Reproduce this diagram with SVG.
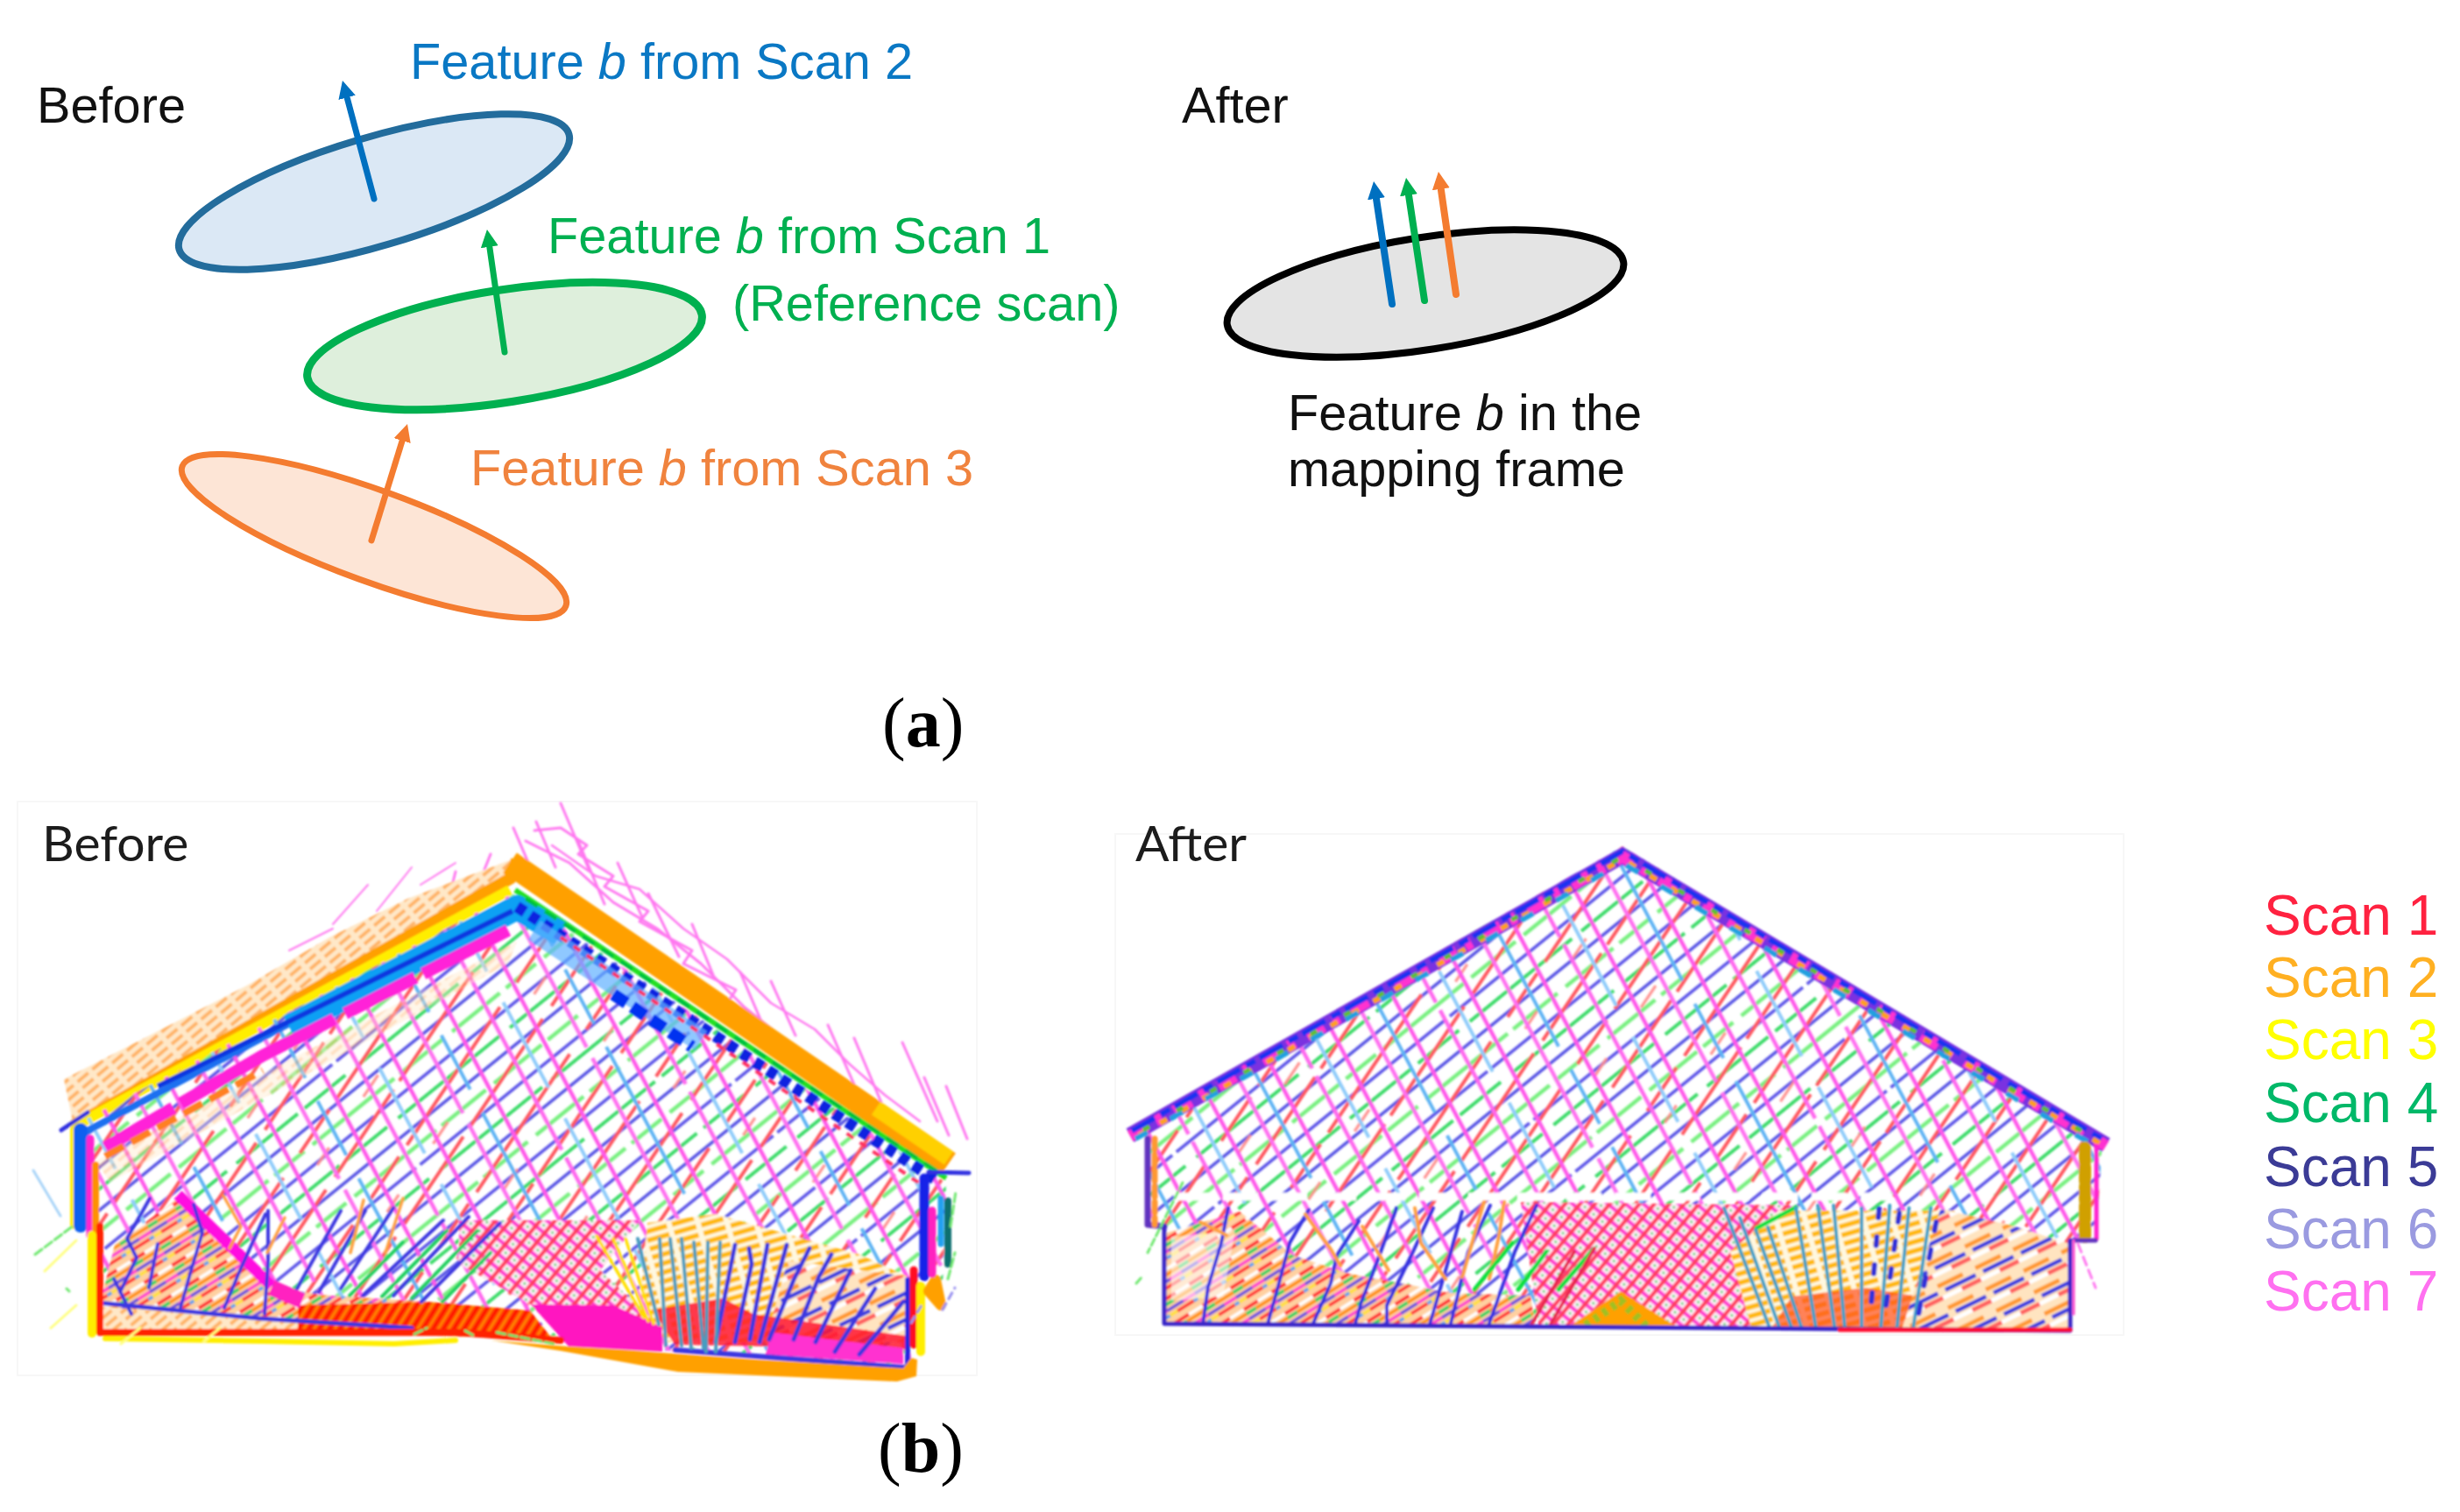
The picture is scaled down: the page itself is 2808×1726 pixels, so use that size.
<svg xmlns="http://www.w3.org/2000/svg" width="2808" height="1726" viewBox="0 0 2808 1726">
<style>
.s{font-family:"Liberation Sans",Arial,sans-serif;font-size:57.700px}
.c{font-family:Lato,"Open Sans",sans-serif;font-size:57px;fill:#1a1a1a}
.l{font-family:"Liberation Serif","Times New Roman",serif;font-size:80px;fill:#000}
.k{font-family:"Liberation Sans",Arial,sans-serif;font-size:64px}
.n{fill:none;stroke-linecap:round;stroke-linejoin:round}
.bl{stroke:#0070c0}.gr{stroke:#00b050}.or{stroke:#f47c30}
</style>
<defs>
<filter id="soft" x="-5%" y="-5%" width="110%" height="110%"><feGaussianBlur stdDeviation="1.2"/></filter>
<filter id="tb" x="-5%" y="-20%" width="110%" height="140%"><feGaussianBlur stdDeviation="0.6"/></filter>
<marker id="mb" markerUnits="userSpaceOnUse" markerWidth="24" markerHeight="24" refX="2" refY="12" orient="auto"><path d="M0 2L20 12L0 22z" fill="#0070c0"/></marker>
<marker id="mg" markerUnits="userSpaceOnUse" markerWidth="24" markerHeight="24" refX="2" refY="12" orient="auto"><path d="M0 2L20 12L0 22z" fill="#00b050"/></marker>
<marker id="mo" markerUnits="userSpaceOnUse" markerWidth="24" markerHeight="24" refX="2" refY="12" orient="auto"><path d="M0 2L20 12L0 22z" fill="#f47c30"/></marker>
<pattern id="pU" width="340" height="76" patternUnits="userSpaceOnUse" patternTransform="rotate(-39)">
<g stroke-width="3.400" fill="none">
<path d="M0 5H340" stroke="#5250e4"/><path d="M0 24H340" stroke="#78f080" stroke-width="4.500" stroke-dasharray="70 9 44 12 120 8 65 12"/>
<path d="M0 43H340" stroke="#5850e8" stroke-dasharray="210 6 124 0"/><path d="M0 62H340" stroke="#40dc6c" stroke-width="4" stroke-dasharray="40 14 90 10 60 16 110 10"/>
</g></pattern>
<pattern id="pF" width="300" height="96" patternUnits="userSpaceOnUse" patternTransform="rotate(-56)">
<g stroke="#ff5860" stroke-width="4" fill="none">
<path d="M0 12H300" stroke-dasharray="120 12 150 18"/><path d="M0 60H300" stroke-dasharray="60 16 190 34"/><path d="M0 84H300" stroke="#ff8a88" stroke-width="3" stroke-dasharray="24 70 30 176"/>
</g></pattern>
<pattern id="pD" width="320" height="160" patternUnits="userSpaceOnUse" patternTransform="rotate(62)">
<g stroke-width="4.500" fill="none">
<path d="M0 10H320" stroke="#ff58ea"/><path d="M0 50H320" stroke="#ff68ee" stroke-dasharray="180 10 130 0"/><path d="M0 90H320" stroke="#ff58ea"/><path d="M0 130H320" stroke="#ff70f0" stroke-dasharray="90 14 216 0"/>
<path d="M0 30H320" stroke="#90ccfa" stroke-width="4" stroke-dasharray="110 40 130 40"/><path d="M0 110H320" stroke="#60b4f4" stroke-width="4" stroke-dasharray="70 30 190 30"/>
</g></pattern>
<pattern id="pX" width="13" height="13" patternUnits="userSpaceOnUse" patternTransform="rotate(40)">
<rect width="13" height="13" fill="#fff0f8"/><path d="M0 3H13" stroke="#ff40d0" stroke-width="4.500"/><path d="M3 0V13" stroke="#ff4060" stroke-width="4.500"/><circle cx="9.500" cy="9.500" r="1.600" fill="#60d070"/>
</pattern>
<pattern id="pT" width="52" height="40" patternUnits="userSpaceOnUse" patternTransform="rotate(-32) scale(.72)">
<rect width="52" height="40" fill="#ffd0a0"/>
<path d="M0 6H26" stroke="#ff2a30" stroke-width="5"/><path d="M26 6H52" stroke="#fff" stroke-width="5"/><path d="M0 14H18" stroke="#30d060" stroke-width="5"/><path d="M18 14H52" stroke="#ff9010" stroke-width="5"/>
<path d="M0 23H30" stroke="#6a50e0" stroke-width="5"/><path d="M30 23H52" stroke="#ff40d0" stroke-width="5"/><path d="M0 32H14" stroke="#ffe040" stroke-width="5"/><path d="M14 32H44" stroke="#ff3838" stroke-width="5"/><path d="M44 32H52" stroke="#60a0f0" stroke-width="5"/>
</pattern>
<pattern id="pO" width="32" height="10" patternUnits="userSpaceOnUse" patternTransform="rotate(-16)">
<rect width="32" height="10" fill="#fff8e0"/><path d="M0 5H26" stroke="#ffb810" stroke-width="5.500"/>
</pattern>
<pattern id="pR" width="60" height="34" patternUnits="userSpaceOnUse" patternTransform="rotate(-26) scale(.8)">
<rect width="60" height="34" fill="#ffe4c0"/><path d="M0 6H40" stroke="#ff9830" stroke-width="6"/><path d="M8 15H56" stroke="#4040e0" stroke-width="6"/><path d="M0 24H30" stroke="#fff" stroke-width="6"/><path d="M30 24H60" stroke="#ff6060" stroke-width="6"/>
</pattern>
<pattern id="pL" width="22" height="9" patternUnits="userSpaceOnUse" patternTransform="rotate(-40)">
<rect width="22" height="9" fill="#ffe8c8"/><path d="M0 4H16" stroke="#ffb468" stroke-width="4"/>
</pattern>
<pattern id="pW" width="10" height="20" patternUnits="userSpaceOnUse" patternTransform="rotate(32)">
<rect width="10" height="20" fill="#ff5000"/><path d="M3 0V20" stroke="#ff1800" stroke-width="4"/><path d="M8 0V20" stroke="#ffa000" stroke-width="1.500"/>
</pattern>
<clipPath id="cB"><path d="M84 1285L585 1020L1080 1350L1076 1470L1040 1470L1040 1560L770 1543L640 1525L113 1515L112 1400L86 1400z"/></clipPath>
<clipPath id="cA"><path d="M1292 1286L1852 966L2400 1300L2393 1414L2363 1416L2363 1520L1329 1512L1329 1400L1307 1398L1307 1295z"/></clipPath>
</defs>
<rect width="2808" height="1726" fill="#fff"/>

<g id="panel-a-before">
<text class="s" x="42" y="140" fill="#111">Before</text>
<g id="feature-scan-2">
<ellipse cx="427" cy="219" rx="232" ry="62" transform="rotate(-16.5 427 219)" fill="#dbe8f5" stroke="#236c9c" stroke-width="8"/>
<text class="s" x="468" y="90" fill="#0a78c4">Feature <tspan font-style="italic">b</tspan> from Scan 2</text>
</g>
<g id="feature-scan-1">
<ellipse cx="576" cy="395" rx="228" ry="64" transform="rotate(-9 576 395)" fill="#deefdc" stroke="#00b050" stroke-width="9"/>
<text class="s" x="625" y="289" fill="#00b050">Feature <tspan font-style="italic">b</tspan> from Scan 1</text>
<text class="s" x="836" y="366" fill="#00b050">(Reference scan)</text>
</g>
<g id="feature-scan-3">
<ellipse cx="427" cy="612" rx="233" ry="52" transform="rotate(20 427 612)" fill="#fde5d6" stroke="#f47c30" stroke-width="7"/>
<text class="s" x="537" y="554" fill="#f0833e">Feature <tspan font-style="italic">b</tspan> from Scan 3</text>
</g>
</g>

<g id="panel-a-after">
<text class="s" x="1349" y="140" fill="#111">After</text>
<g id="feature-mapping">
<ellipse cx="1627" cy="335" rx="229" ry="64" transform="rotate(-9 1627 335)" fill="#e4e4e4" stroke="#000" stroke-width="8"/>
<text class="s" x="1470" y="491" fill="#111">Feature <tspan font-style="italic">b</tspan> in the</text>
<text class="s" x="1470" y="555" fill="#111">mapping frame</text>
</g>
</g>

<g id="connectors" class="n" stroke-width="7">
<path class="bl" d="M427 227L395.600 109.400" marker-end="url(#mb)"/>
<path class="gr" d="M576 402L558.500 279.800" marker-end="url(#mg)"/>
<path class="or" d="M424 617L459.700 501.200" marker-end="url(#mo)"/>
<path class="bl" d="M1589 347L1570.700 224.800" stroke-width="8" marker-end="url(#mb)"/>
<path class="gr" d="M1626 343L1607.700 220.800" stroke-width="8" marker-end="url(#mg)"/>
<path class="or" d="M1662 336L1644.500 213.800" stroke-width="8" marker-end="url(#mo)"/>
</g>

<text id="label-a" class="l" x="1007" y="852">(<tspan font-weight="bold">a</tspan>)</text>
<text id="label-b" class="l" x="1002" y="1680">(<tspan font-weight="bold">b</tspan>)</text>

<g id="point-cloud-before">
<rect x="20" y="915" width="1095" height="655" fill="#fff" stroke="#f7f7f7" stroke-width="2"/>
<g filter="url(#soft)">
<g class="n" stroke="#ff78f0" stroke-width="3">
<path d="M640 917l32 75M612 938l22 52M586 945l18 42M660 960l30 72M705 985l28 62M740 1020l35 72M790 1055l24 58M845 1110l36 84M880 1120l28 62M945 1170l30 68M975 1185l32 76M1030 1190l40 90M1055 1230l28 66M1080 1240l24 60M560 975l-12 30M520 995l-10 40"/>
<path d="M610 948L640 945L670 965L660 975L700 1000L690 1012L740 1040L730 1052L790 1085L780 1100L840 1130L830 1145L880 1180L925 1205L915 1225L960 1245L1000 1270L1040 1300L1060 1330"/>
<path d="M630 965L680 1000L730 1015L780 1060L830 1095L880 1145L930 1175L970 1215L1010 1250L1050 1280" stroke-width="2.500"/>
<path d="M600 960L650 985L700 1030L750 1060L800 1100L850 1150L900 1190"/>
<path d="M330 1085L380 1060M380 1055L420 1010M430 1040L470 990M480 1010L520 985" stroke-width="2"/>
</g>
<path d="M73 1232L280 1126L378 1069L465 1026L582 982L596 1000L84 1285z" fill="url(#pL)"/>
<path d="M84 1285L582 1003L590 982" fill="none" stroke="#ffa000" stroke-width="14"/>
<path d="M582 985L1083 1328" fill="none" stroke="#ffa000" stroke-width="28"/>
<path d="M1000 1265L1083 1322" fill="none" stroke="#ffd000" stroke-width="18"/>
<path d="M88 1284L582 1016" fill="none" stroke="#ffee00" stroke-width="12"/>
<path d="M588 1016L1080 1345" fill="none" stroke="#20e020" stroke-width="6"/>
<g clip-path="url(#cB)">
<rect x="60" y="980" width="1040" height="590" fill="url(#pU)"/><rect x="60" y="980" width="1040" height="590" fill="url(#pF)"/><rect x="60" y="980" width="1040" height="590" fill="url(#pD)"/>
<path d="M110 1325L560 1090L590 1075L580 1100L125 1350z" fill="url(#pL)" opacity=".4"/>
</g>
<path d="M90 1296L590 1030" fill="none" stroke="#1d70f0" stroke-width="8"/>
<path d="M330 1172L590 1036L640 1066" fill="none" stroke="#10a0f4" stroke-width="28" stroke-linejoin="round"/>
<path d="M180 1240L585 1040" fill="none" stroke="#0838e0" stroke-width="6"/>
<path d="M120 1310L300 1205L580 1062" fill="none" stroke="#ff20d8" stroke-width="14" stroke-dasharray="90 10 200 14"/>
<path d="M120 1320L300 1222" fill="none" stroke="#ff8020" stroke-width="8" stroke-dasharray="24 10"/>
<path d="M590 1035L1070 1348" fill="none" stroke="#1020e0" stroke-width="13" stroke-dasharray="11 7"/>
<path d="M610 1062L800 1188" fill="none" stroke="#60b0ff" stroke-width="26" opacity=".7"/>
<path d="M640 1070L1060 1358" fill="none" stroke="#ff3060" stroke-width="4" stroke-dasharray="9 9"/>
<path d="M600 1026L1075 1340" fill="none" stroke="#00c040" stroke-width="4" stroke-dasharray="16 10"/>
<path d="M700 1135L790 1195" fill="none" stroke="#0030f0" stroke-width="14" stroke-dasharray="18 8"/>
<path d="M131 1421L203 1368L235 1393L310 1468L364 1478L489 1486L485 1518L114 1510L114 1489z" fill="url(#pT)"/>
<path d="M118 1492L300 1505L480 1518L118 1518z" fill="url(#pL)"/>
<path d="M524 1393L731 1393L685 1450L753 1514L713 1536L649 1536L606 1489L524 1443z" fill="url(#pX)"/>
<path d="M739 1396L817 1386L981 1432L1035 1457L1035 1532L760 1532L731 1478z" fill="url(#pO)"/>
<path d="M899 1439L1035 1457L1035 1532L874 1532z" fill="url(#pR)"/>
<path d="M745 1495L825 1482L860 1500L1035 1525L1035 1540L770 1535z" fill="#ff1830" opacity=".85"/>
<path d="M881 1521L1031 1539L1031 1557L874 1546z" fill="#ff30d0"/>
<path d="M340 1490L489 1486L605 1496L631 1529L340 1520z" fill="url(#pW)"/>
<path d="M606 1489L700 1490L756 1515L756 1543L649 1537z" fill="#ff18c0"/>
<path d="M203 1364L310 1468" fill="none" stroke="#ff10e0" stroke-width="13"/>
<path d="M310 1470L345 1485" fill="none" stroke="#ff20c0" stroke-width="18"/>
<g class="n" stroke-width="4" stroke="#3c38e0">
<path d="M137 1475L156 1436L145 1414L171 1368M206 1493L217 1454L231 1407L221 1375M256 1493L274 1450L303 1386M302 1500L306 1440L306 1382M170 1470L180 1420M150 1500L130 1460"/>
<path d="M339 1471L389 1382M364 1475L417 1382M389 1471L449 1379M414 1479L506 1393M449 1479L535 1389M481 1486L571 1396"/>
<path d="M112 1487L296 1505L470 1516" stroke-width="5"/>
<path d="M839 1421L817 1532M855 1425L858 1443L839 1532M876 1421L856 1529M898 1421L867 1532M924 1425L906 1461L878 1529M949 1432L935 1457L906 1529M971 1450L931 1532M999 1471L953 1543M1031 1486L981 1546" stroke-width="5"/>
<path d="M771 1541L1033 1561" stroke-width="6"/>
</g>
<g class="n" stroke-width="4" stroke="#20d060"><path d="M399 1479L460 1418M436 1480L510 1405M470 1482L545 1405M505 1486L560 1430"/></g>
<g class="n" stroke-width="3.500" stroke="#ffa040"><path d="M255 1365L275 1400L262 1425M325 1390L305 1430M415 1370L400 1430M460 1368L440 1430"/></g>
<g class="n" stroke-width="4" stroke="#4a9cc0"><path d="M753 1414L760 1536M765 1414L778 1536M778 1414L789 1539M792 1418L803 1539M808 1418L806 1543M822 1418L817 1543M728 1414L752 1512"/></g>
<g class="n" stroke-width="3.500" stroke="#ffe000"><path d="M681 1411L735 1504M714 1414L746 1511M700 1414L740 1508"/></g>
<g class="n">
<path d="M84 1282V1399" stroke="#ffee00" stroke-width="8"/>
<path d="M92 1290V1399" stroke="#1060f0" stroke-width="16"/>
<path d="M103 1300V1410" stroke="#ff20d0" stroke-width="9"/>
<path d="M109 1330V1420" stroke="#ff9000" stroke-width="8"/>
<path d="M105 1410V1522" stroke="#ffee00" stroke-width="10"/>
<path d="M114 1400V1521H524L640 1530" stroke="#ff2000" stroke-width="8"/>
<path d="M120 1528L300 1531L450 1534L520 1530" stroke="#ffee00" stroke-width="6"/>
<path d="M1036 1461V1561" stroke="#2828e0" stroke-width="6"/>
<path d="M1043 1450V1535" stroke="#ff1020" stroke-width="9"/>
<path d="M1051 1468V1543" stroke="#ffee00" stroke-width="10"/>
<path d="M1068 1461L1074 1490L1060 1474z" stroke="#ffa000" stroke-width="12" fill="#ffa000"/>
<path d="M1055 1345V1457" stroke="#1420e8" stroke-width="11"/>
<path d="M1064 1382V1454" stroke="#ff20c0" stroke-width="9"/>
<path d="M1074 1368V1420" stroke="#20a0f0" stroke-width="7"/>
<path d="M1082 1371V1443" stroke="#107070" stroke-width="8"/>
<path d="M1060 1338L1106 1339" stroke="#3030e0" stroke-width="5"/>
<path d="M70 1290L100 1270" stroke="#3030e0" stroke-width="5"/>
</g>
<path d="M560 1530L649 1537L714 1541L864 1552L1031 1562L1040 1550L1047 1552L1046 1571L1024 1577L774 1566L640 1542z" fill="#ffa000"/>
<g class="n" stroke-width="3">
<path d="M38 1336L69 1388" stroke="#a8d4f8"/>
<path d="M40 1432L84 1399M76 1471l3 3M473 1523l14 -7M531 1519l12 7M567 1521L632 1534M1082 1460l8 -30M1085 1400l6 -40" stroke="#70e870" stroke-dasharray="10 4"/>
<path d="M51 1451L87 1416M58 1516L87 1490M138 1534L160 1516M233 1531L251 1516" stroke="#ffff80"/>
<path d="M1040 1510L1052 1490M1076 1495L1090 1470" stroke="#9890f0" stroke-dasharray="8 6"/>
</g>
</g>
<text class="c" x="48" y="983" filter="url(#tb)">Before</text>
</g>

<g id="point-cloud-after">
<rect x="1273" y="952" width="1151" height="572" fill="#fff" stroke="#f7f7f7" stroke-width="2"/>
<g filter="url(#soft)">
<g clip-path="url(#cA)">
<rect x="1280" y="960" width="1130" height="570" fill="url(#pU)"/><rect x="1280" y="960" width="1130" height="570" fill="url(#pF)"/><rect x="1280" y="960" width="1130" height="570" fill="url(#pD)"/>
<path d="M1340 1366H2160" stroke="#fff" stroke-width="9" stroke-dasharray="40 16" fill="none"/>
<path d="M1736 1372L2054 1376L1975 1429L2010 1520L1758 1525z" fill="url(#pX)"/>
<path d="M2030 1382L2230 1382L2250 1400L2240 1450L2200 1520L2000 1520L1975 1429z" fill="url(#pO)"/>
<path d="M2045 1480L2130 1470L2190 1480L2180 1520H2020z" fill="#ff5020" opacity=".7"/>
<path d="M1329 1408L1415 1383L1476 1433L1540 1454L1611 1467L1654 1476L1747 1479L1754 1524L1326 1522z" fill="url(#pT)"/>
<path d="M1337 1412L1410 1405L1396 1480L1337 1485z" fill="#fff" opacity=".55"/>
<path d="M2215 1380L2300 1400L2363 1420L2363 1520L2170 1520z" fill="url(#pR)"/>
<path d="M1780 1522L1850 1474L1932 1526z" fill="#ffa000"/>
<path d="M1800 1520L1850 1485L1880 1515" fill="none" stroke="#a0c020" stroke-width="10" stroke-dasharray="6 6"/>
<g class="n" stroke-width="4" stroke="#3530e0">
<path d="M1372 1519L1379 1469L1394 1419L1402 1379M1444 1522L1458 1472L1472 1419L1494 1381M1494 1522L1519 1465L1526 1433L1551 1394M1544 1522L1554 1486L1572 1440L1594 1379M1583 1522L1583 1490L1611 1433L1636 1379M1629 1522L1651 1447L1669 1383M1654 1519L1676 1429L1701 1376M1697 1519L1729 1429L1754 1376"/>
</g>
<g class="n" stroke-width="4" stroke="#ffa040"><path d="M1490 1386L1519 1426L1530 1445M1615 1379L1622 1419L1650 1460M1694 1372L1669 1458M1717 1372L1711 1411L1700 1460M1400 1410L1370 1395M1555 1400L1585 1450"/></g>
<g class="n" stroke-width="5" stroke="#10e040"><path d="M1683 1472L1726 1419M1733 1472L1765 1429M1779 1472L1819 1426M2005 1402L2050 1378"/></g>
<g class="n" stroke-width="4" stroke="#e82850"><path d="M1744 1519L1797 1429M1765 1520L1820 1425"/></g>
<g class="n" stroke-width="4" stroke="#40a0c8"><path d="M1968 1379L2025 1529M1986 1390L2036 1529M2004 1404L2050 1529M2018 1401L2061 1529M2050 1379L2075 1529M2075 1376L2096 1529M2093 1376L2107 1529M2125 1379V1529M2157 1376L2146 1529M2179 1379L2164 1529M2204 1379L2182 1529"/></g>
<g class="n" stroke-width="6" stroke="#3030d8" stroke-dasharray="10 22"><path d="M2145 1380L2135 1500M2168 1385L2150 1510M2210 1395L2190 1500"/></g>
</g>
<g fill="none" style="stroke-linejoin:miter">
<path d="M1290 1296L1852 977L2404 1307" stroke="#7a30e0" stroke-width="18"/>
<path d="M1290 1297L1852 978L2404 1308" stroke="#ff30d0" stroke-width="13" stroke-dasharray="22 12 8 16"/>
<path d="M1292 1291L1852 972L2404 1303" stroke="#1a30f0" stroke-width="6" stroke-dasharray="30 8 12 6"/>
<path d="M1300 1296L1852 981L2400 1307" stroke="#ffa020" stroke-width="6" stroke-dasharray="9 19"/>
<path d="M1296 1300L1852 985L2394 1310" stroke="#20a0e0" stroke-width="6" stroke-dasharray="16 30"/>
<path d="M1305 1290L1852 978L2396 1303" stroke="#60c030" stroke-width="5" stroke-dasharray="8 36"/>
</g>
<g class="n">
<path d="M1310 1300V1398L1329 1400" stroke="#6030c0" stroke-width="7"/>
<path d="M1318 1300V1398" stroke="#ff9830" stroke-width="7" stroke-dasharray="12 6"/>
<path d="M1329 1400V1511L2363 1519V1416" stroke="#3a28c8" stroke-width="5"/>
<path d="M2100 1518H2363" stroke="#ff1030" stroke-width="5"/>
<path d="M2380 1310V1412" stroke="#d0a000" stroke-width="14" stroke-dasharray="16 6"/>
<path d="M2393 1308V1414" stroke="#ff20d0" stroke-width="5"/>
<path d="M2368 1416H2392" stroke="#6030c0" stroke-width="5"/>
<path d="M2367 1416V1500" stroke="#ff50d0" stroke-width="3"/>
</g>
<g class="n" stroke-width="3"><path d="M1297 1465l7 -8M1350 1350L1310 1430" stroke="#70e870" stroke-dasharray="8 4"/><path d="M2372 1420L2392 1470" stroke="#ff78f0" stroke-dasharray="10 6"/></g>
</g>
<text class="c" x="1296" y="983" filter="url(#tb)">After</text>
</g>

<g id="legend" filter="url(#tb)">
<text class="k" x="2584" y="1067" fill="#ff2040">Scan 1</text>
<text class="k" x="2584" y="1138" fill="#ffb020">Scan 2</text>
<text class="k" x="2584" y="1209" fill="#ffff00">Scan 3</text>
<text class="k" x="2584" y="1281" fill="#00b868">Scan 4</text>
<text class="k" x="2584" y="1354" fill="#3a3a96">Scan 5</text>
<text class="k" x="2584" y="1425" fill="#9a9ae0">Scan 6</text>
<text class="k" x="2584" y="1496" fill="#ff70f0">Scan 7</text>
</g>
</svg>
